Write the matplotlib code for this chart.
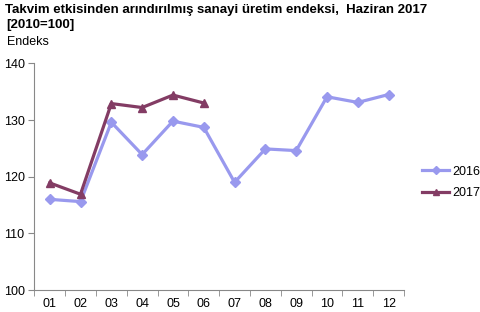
import matplotlib.pyplot as plt
import numpy as np

plt.rcParams['font.family'] = ['Liberation Sans', 'DejaVu Sans']

months = ["01", "02", "03", "04", "05", "06", "07", "08", "09", "10", "11", "12"]
y2016 = [116.0, 115.6, 129.6, 123.9, 129.8, 128.7, 119.0, 124.9, 124.6, 134.1, 133.1, 134.5]
y2017 = [118.9, 116.9, 132.9, 132.2, 134.4, 133.0]
yticks = [100, 110, 120, 130, 140]

fig = plt.figure(figsize=(4.81, 3.12), dpi=100)
ax = fig.add_axes([0.0713, 0.0705, 0.7687, 0.7265])

x = np.arange(len(months))
ax.plot(x, y2016, color="#9999ee", lw=2.3, marker="D", ms=5, label="2016")
ax.plot(x[:len(y2017)], y2017, color="#833c64", lw=2.3, marker="^", ms=6, label="2017")

ax.set_xlim(-0.5, len(months) - 0.5)
ax.set_ylim(100, 140)
ax.set_yticks(yticks)
ax.set_xticks(x)
ax.set_xticklabels(months)
ax.set_xticks(np.arange(-0.5, len(months)), minor=True)
ax.tick_params(axis="x", which="major", length=0, labelsize=9, pad=6)
ax.tick_params(axis="x", which="minor", length=4, color="#888888", direction="out")
ax.tick_params(axis="y", length=4, color="#888888", labelsize=9, pad=3)
for s in ["top", "right"]:
    ax.spines[s].set_visible(False)
for s in ["left", "bottom"]:
    ax.spines[s].set_color("#888888")

ax.legend(loc="center left", bbox_to_anchor=(0.877, 0.415), bbox_transform=fig.transFigure,
          frameon=False, fontsize=9, borderaxespad=0, borderpad=0, markerscale=0.75,
          handlelength=2.2, handletextpad=0.2, labelspacing=0.75)

fig.text(0.01, 0.967, "Takvim etkisinden arındırılmış sanayi üretim endeksi,  Haziran 2017",
         fontsize=9.5, fontweight="bold", va="center")
fig.text(0.013, 0.92, "[2010=100]", fontsize=9.5, fontweight="bold", va="center")
fig.text(0.015, 0.865, "Endeks", fontsize=9, va="center")

fig.savefig("out.png", dpi=100)
